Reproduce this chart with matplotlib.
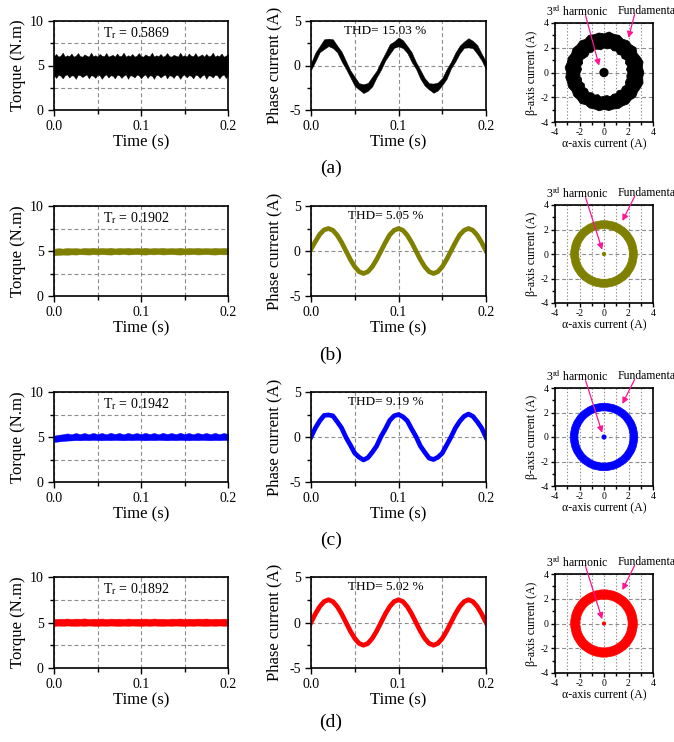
import numpy as np
import matplotlib.pyplot as plt
from matplotlib.patches import Wedge, PathPatch
from matplotlib.path import Path
from matplotlib.ticker import MultipleLocator, FormatStrFormatter

plt.rcParams['font.family'] = ['Liberation Serif', 'DejaVu Serif']
plt.rcParams['mathtext.fontset'] = 'stix'
plt.rcParams['axes.unicode_minus'] = False

# ---- data ----
row_tags = ['(a)', '(b)', '(c)', '(d)']
colors = ['black', '#808000', '#0000ff', '#ff0000']
torque_ripple = ['0.5869', '0.1902', '0.1942', '0.1892']
thd_values = ['15.03', '5.05', '9.19', '5.02']

time_s = np.linspace(0, 0.2, 41)
time_fine = np.linspace(0, 0.2, 81)

# torque band (upper / lower envelope), N.m
torque_upper_a = [6.05, 6.3, 6.0, 6.1, 6.45, 6.0, 6.15, 6.05, 6.35, 6.0,
                  6.1, 6.4, 6.05, 6.0, 6.25, 6.1, 6.0, 6.45, 6.05, 6.15,
                  6.0, 6.3, 6.1, 6.05, 6.4, 6.0, 6.1, 6.2, 6.0, 6.35,
                  6.05, 6.1, 6.45, 6.0, 6.15, 6.05, 6.3, 6.0, 6.1, 6.4,
                  6.05, 6.0, 6.25, 6.1, 6.05, 6.45, 6.0, 6.15, 6.05, 6.3,
                  6.0, 6.1, 6.4, 6.05, 6.0, 6.2, 6.1, 6.0, 6.45, 6.05,
                  6.15, 6.0, 6.35, 6.1, 6.05, 6.4, 6.0, 6.1, 6.25, 6.0,
                  6.3, 6.05, 6.1, 6.45, 6.0, 6.15, 6.05, 6.35, 6.0, 6.1,
                  6.3]
torque_lower_a = [3.9, 3.6, 3.95, 3.85, 3.55, 3.9, 4.0, 3.65, 3.9, 3.85,
                  3.5, 3.95, 3.9, 3.7, 3.85, 4.0, 3.55, 3.9, 3.85, 3.6,
                  3.95, 3.9, 3.5, 3.85, 4.0, 3.65, 3.9, 3.85, 3.55, 3.95,
                  3.9, 3.6, 3.85, 4.0, 3.5, 3.9, 3.85, 3.65, 3.95, 3.9,
                  3.55, 3.85, 4.0, 3.6, 3.9, 3.85, 3.5, 3.95, 3.9, 3.65,
                  3.85, 4.0, 3.55, 3.9, 3.85, 3.6, 3.95, 3.9, 3.5, 3.85,
                  4.0, 3.65, 3.9, 3.85, 3.55, 3.95, 3.9, 3.6, 3.85, 4.0,
                  3.5, 3.9, 3.85, 3.65, 3.95, 3.9, 3.55, 3.85, 4.0, 3.6,
                  3.9]
torque_upper_b = [5.25, 5.32, 5.27, 5.34, 5.3, 5.33, 5.27, 5.35, 5.31, 5.36,
                  5.29, 5.35, 5.3, 5.37, 5.28, 5.34, 5.31, 5.36, 5.29, 5.35,
                  5.3, 5.37, 5.28, 5.35, 5.31, 5.36, 5.29, 5.34, 5.3, 5.37,
                  5.28, 5.35, 5.31, 5.36, 5.3, 5.34, 5.29, 5.36, 5.31, 5.35,
                  5.3]
torque_lower_b = [4.52, 4.56, 4.6, 4.58, 4.62, 4.6, 4.64, 4.62, 4.6, 4.64,
                  4.61, 4.65, 4.62, 4.6, 4.64, 4.62, 4.66, 4.61, 4.63, 4.65,
                  4.62, 4.6, 4.64, 4.62, 4.66, 4.61, 4.63, 4.65, 4.62, 4.6,
                  4.64, 4.62, 4.66, 4.61, 4.63, 4.65, 4.62, 4.6, 4.64, 4.62,
                  4.63]
torque_upper_c = [5.15, 5.25, 5.3, 5.4, 5.3, 5.45, 5.32, 5.45, 5.3, 5.46,
                  5.32, 5.45, 5.3, 5.47, 5.33, 5.45, 5.3, 5.46, 5.32, 5.45,
                  5.31, 5.47, 5.32, 5.45, 5.3, 5.46, 5.33, 5.45, 5.31, 5.47,
                  5.32, 5.45, 5.3, 5.46, 5.33, 5.45, 5.31, 5.46, 5.32, 5.45,
                  5.33]
torque_lower_c = [4.45, 4.5, 4.55, 4.6, 4.62, 4.65, 4.63, 4.66, 4.64, 4.67,
                  4.65, 4.63, 4.66, 4.64, 4.67, 4.65, 4.63, 4.66, 4.64, 4.67,
                  4.65, 4.63, 4.66, 4.64, 4.67, 4.65, 4.63, 4.66, 4.64, 4.67,
                  4.65, 4.63, 4.66, 4.64, 4.67, 4.65, 4.63, 4.66, 4.64, 4.67,
                  4.65]
torque_upper_d = [5.38, 5.42, 5.4, 5.44, 5.39, 5.43, 5.41, 5.45, 5.39, 5.42,
                  5.4, 5.44, 5.38, 5.43, 5.41, 5.42, 5.39, 5.44, 5.4, 5.42,
                  5.41, 5.43, 5.39, 5.44, 5.4, 5.42, 5.38, 5.43, 5.41, 5.44,
                  5.39, 5.42, 5.4, 5.43, 5.41, 5.44, 5.39, 5.42, 5.4, 5.43,
                  5.41]
torque_lower_d = [4.62, 4.66, 4.63, 4.67, 4.64, 4.62, 4.66, 4.63, 4.67, 4.64,
                  4.62, 4.66, 4.63, 4.67, 4.64, 4.62, 4.66, 4.63, 4.67, 4.64,
                  4.62, 4.66, 4.63, 4.67, 4.64, 4.62, 4.66, 4.63, 4.67, 4.64,
                  4.62, 4.66, 4.63, 4.67, 4.64, 4.62, 4.66, 4.63, 4.67, 4.64,
                  4.63]
torque_time = [time_fine, time_s, time_s, time_s]
torque_upper = [torque_upper_a, torque_upper_b, torque_upper_c, torque_upper_d]
torque_lower = [torque_lower_a, torque_lower_b, torque_lower_c, torque_lower_d]

# phase current, A
current_a = [-0.1, 0.95, 1.85, 2.4, 2.6, 2.45, 1.85, 1.0, 0.05, -0.95,
             -1.8, -2.35, -2.6, -2.4, -1.8, -0.95, 0.0, 1.0, 1.85, 2.35,
             2.65, 2.4, 1.8, 0.95, 0.0, -1.0, -1.85, -2.35, -2.55, -2.35,
             -1.8, -0.95, 0.05, 0.95, 1.8, 2.35, 2.55, 2.35, 1.8, 0.95,
             0.0]
current_a_spread = [0.4, 0.5, 0.35, 0.55, 0.42, 0.5, 0.38, 0.55, 0.45, 0.4,
                    0.52, 0.36, 0.5, 0.44, 0.55, 0.38, 0.48, 0.42, 0.55, 0.36,
                    0.5, 0.45, 0.4, 0.55, 0.38, 0.5, 0.42, 0.36, 0.52, 0.45,
                    0.4, 0.55, 0.38, 0.5, 0.44, 0.36, 0.52, 0.42, 0.5, 0.38,
                    0.45]
current_b = [0.2, 1.05, 1.85, 2.35, 2.5, 2.3, 1.75, 0.95, 0.0, -0.95,
             -1.75, -2.3, -2.5, -2.3, -1.75, -0.95, 0.0, 0.95, 1.8, 2.3,
             2.5, 2.3, 1.75, 0.95, 0.0, -0.95, -1.75, -2.3, -2.5, -2.3,
             -1.75, -0.95, 0.0, 0.95, 1.8, 2.3, 2.5, 2.3, 1.75, 0.95,
             0.0]
current_c = [0.0, 1.0, 1.8, 2.4, 2.45, 2.35, 1.7, 1.0, -0.05, -0.9,
             -1.8, -2.25, -2.55, -2.3, -1.7, -1.0, 0.05, 0.9, 1.85, 2.35,
             2.5, 2.25, 1.8, 0.9, 0.05, -1.0, -1.7, -2.35, -2.5, -2.25,
             -1.8, -0.9, 0.0, 1.0, 1.75, 2.3, 2.55, 2.3, 1.7, 1.0,
             -0.05]
current_d = [0.0, 0.95, 1.75, 2.3, 2.5, 2.3, 1.75, 0.95, 0.0, -0.95,
             -1.75, -2.3, -2.5, -2.3, -1.75, -0.95, 0.0, 0.95, 1.75, 2.3,
             2.5, 2.3, 1.75, 0.95, 0.0, -0.95, -1.75, -2.3, -2.5, -2.3,
             -1.75, -0.95, 0.0, 0.95, 1.75, 2.3, 2.5, 2.3, 1.75, 0.95,
             0.0]
currents = [current_a, current_b, current_c, current_d]

# alpha-beta trajectory ring: row (a) noisy radii every 7.5 deg
ring_angle_deg = np.arange(0, 360, 7.5)
ring_outer_a = [3.25, 3.15, 3.3, 3.2, 3.1, 3.28, 3.15, 3.22,
                3.1, 3.25, 3.18, 3.3, 3.12, 3.22, 3.15, 3.25,
                3.08, 3.2, 3.1, 3.18, 3.05, 3.15, 3.1, 3.2,
                3.05, 3.15, 3.08, 3.12, 3.0, 3.1, 3.05, 3.15,
                3.0, 3.1, 3.05, 3.12, 2.98, 3.1, 3.05, 3.15,
                3.1, 3.2, 3.12, 3.25, 3.15, 3.22, 3.3, 3.18]
ring_inner_a = [1.95, 1.85, 2.0, 1.9, 2.05, 1.88, 1.98, 1.85,
                2.0, 1.9, 2.05, 1.92, 2.0, 1.85, 1.95, 2.02,
                1.9, 2.0, 1.88, 1.95, 2.05, 1.9, 1.98, 1.85,
                1.95, 2.02, 1.9, 1.98, 1.86, 2.0, 1.92, 2.05,
                1.9, 1.98, 1.85, 2.0, 1.92, 1.88, 2.02, 1.9,
                1.98, 1.86, 2.0, 1.92, 2.05, 1.9, 1.95, 1.88]
# rows (b)-(d): outer radius and ring width
ring_outer = [None, 2.72, 2.75, 2.72]
ring_width = [None, 0.65, 0.62, 0.75]
dot_radius = [0.32, 0.12, 0.15, 0.11]

# ---- layout (figure fractions) ----
W, H = 674, 742
fig = plt.figure(figsize=(W / 100, H / 100), dpi=100)

row_top = [21, 206, 392, 577]
row_bot = [110, 296, 482, 668]
circ_top = [23, 205, 388, 574]
circ_bot = [122, 303, 486, 673]
tag_y = [168, 355, 540, 722]

grid_kw = dict(color='#8c8c8c', linestyle=(0, (3.5, 2.5)), linewidth=0.8)
pink = '#ff1493'


def style_axes(ax, tick_size):
    for s in ax.spines.values():
        s.set_linewidth(1.2)
    ax.tick_params(which='both', direction='out', top=False, right=False,
                   labelsize=tick_size, width=1.0)
    ax.tick_params(which='major', length=4)
    ax.tick_params(which='minor', length=3)
    ax.set_axisbelow(True)


for i in range(4):
    c = colors[i]
    b = 1 - row_bot[i] / H
    h = (row_bot[i] - row_top[i]) / H

    # torque
    ax1 = fig.add_axes([54 / W, b, 174 / W, h])
    ax1.fill_between(torque_time[i], torque_lower[i], torque_upper[i], color=c,
                     lw=0.3, edgecolor=c)
    ax1.set_xlim(0, 0.2)
    ax1.set_ylim(0, 10)
    ax1.xaxis.set_major_locator(MultipleLocator(0.1))
    ax1.xaxis.set_minor_locator(MultipleLocator(0.05))
    ax1.xaxis.set_major_formatter(FormatStrFormatter('%.1f'))
    ax1.yaxis.set_major_locator(MultipleLocator(5))
    ax1.yaxis.set_minor_locator(MultipleLocator(2.5))
    ax1.grid(True, which='both', **grid_kw)
    style_axes(ax1, 10)
    ax1.set_xlabel('Time (s)', fontsize=12, labelpad=1)
    ax1.set_ylabel('Torque (N.m)', fontsize=12, labelpad=3)
    ax1.text(0.095, 8.65, r'T$_\mathrm{r}$ = ' + torque_ripple[i],
             ha='center', va='center', fontsize=10)

    # phase current
    ax2 = fig.add_axes([311 / W, b, 175 / W, h])
    if i == 0:
        lo = np.array(currents[i]) - np.array(current_a_spread)
        hi = np.array(currents[i]) + np.array(current_a_spread)
        ax2.fill_between(time_s, lo, hi, color=c, lw=0.3, edgecolor=c)
    else:
        ax2.plot(time_s, currents[i], color=c, lw=3.4, solid_joinstyle='round')
    ax2.set_xlim(0, 0.2)
    ax2.set_ylim(-5, 5)
    ax2.xaxis.set_major_locator(MultipleLocator(0.1))
    ax2.xaxis.set_minor_locator(MultipleLocator(0.05))
    ax2.xaxis.set_major_formatter(FormatStrFormatter('%.1f'))
    ax2.yaxis.set_major_locator(MultipleLocator(5))
    ax2.yaxis.set_minor_locator(MultipleLocator(2.5))
    ax2.xaxis.grid(True, which='both', **grid_kw)
    ax2.yaxis.grid(True, which='major', **grid_kw)
    style_axes(ax2, 10)
    ax2.set_xlabel('Time (s)', fontsize=12, labelpad=1)
    ax2.set_ylabel('Phase current (A)', fontsize=12, labelpad=5)
    ax2.text(0.085, 3.9, 'THD= ' + thd_values[i] + ' %',
             ha='center', va='center', fontsize=9.5)

    # alpha-beta
    cb = 1 - circ_bot[i] / H
    ch = (circ_bot[i] - circ_top[i]) / H
    ax3 = fig.add_axes([555 / W, cb, 98 / W, ch])
    if i == 0:
        th = np.deg2rad(ring_angle_deg)
        ro = np.array(ring_outer_a)
        ri = np.array(ring_inner_a)
        outer = np.column_stack([ro * np.cos(th), ro * np.sin(th)])
        inner = np.column_stack([ri * np.cos(th), ri * np.sin(th)])[::-1]
        verts = np.vstack([outer, outer[:1], inner, inner[:1]])
        n = len(outer)
        codes = ([Path.MOVETO] + [Path.LINETO] * (n - 1) + [Path.CLOSEPOLY]
                 + [Path.MOVETO] + [Path.LINETO] * (n - 1) + [Path.CLOSEPOLY])
        ax3.add_patch(PathPatch(Path(verts, codes), facecolor=c, edgecolor=c,
                                lw=0.6))
    else:
        ax3.add_patch(Wedge((0, 0), ring_outer[i], 0, 360, width=ring_width[i],
                            facecolor=c, edgecolor=c, lw=0.5))
    ax3.add_patch(plt.Circle((0, 0), dot_radius[i], color=c))
    ax3.set_xlim(-4, 4)
    ax3.set_ylim(-4, 4)
    for axis in (ax3.xaxis, ax3.yaxis):
        axis.set_major_locator(MultipleLocator(2))
        axis.set_minor_locator(MultipleLocator(1))
    ax3.xaxis.grid(True, which='both', color='#8c8c8c', linestyle=(0, (1.2, 1.8)),
                   linewidth=0.8)
    ax3.yaxis.grid(True, which='major', **grid_kw)
    style_axes(ax3, 7)
    ax3.tick_params(which='major', length=3, pad=1.5)
    ax3.tick_params(which='minor', length=2)
    ax3.set_xlabel('α-axis current (A)', fontsize=8.5, labelpad=1)
    ax3.set_ylabel('β-axis current (A)', fontsize=8.5, labelpad=2)

    ax3.text(-2.2, 5.0, r'3$^{\mathrm{rd}}$ harmonic', ha='center', va='center',
             fontsize=8.5, clip_on=False)
    ax3.text(1.1, 5.0, 'Fundamental', ha='left', va='center', fontsize=8.5,
             clip_on=False)
    tip3 = (-0.4, 0.55) if i == 0 else (-0.15, 0.35)
    tipf = (2.0, 2.8) if i == 0 else (1.5, 2.7)
    arrow = dict(arrowstyle='-|>', color=pink, lw=0.9, mutation_scale=9,
                 shrinkA=0, shrinkB=0)
    ax3.annotate('', xy=tip3, xytext=(-1.5, 4.6), arrowprops=arrow,
                 annotation_clip=False)
    ax3.annotate('', xy=tipf, xytext=(2.5, 4.7), arrowprops=arrow,
                 annotation_clip=False)

    fig.text(331 / W, 1 - tag_y[i] / H, row_tags[i], ha='center', va='center',
             fontsize=14)

fig.savefig('out.png', dpi=100)
